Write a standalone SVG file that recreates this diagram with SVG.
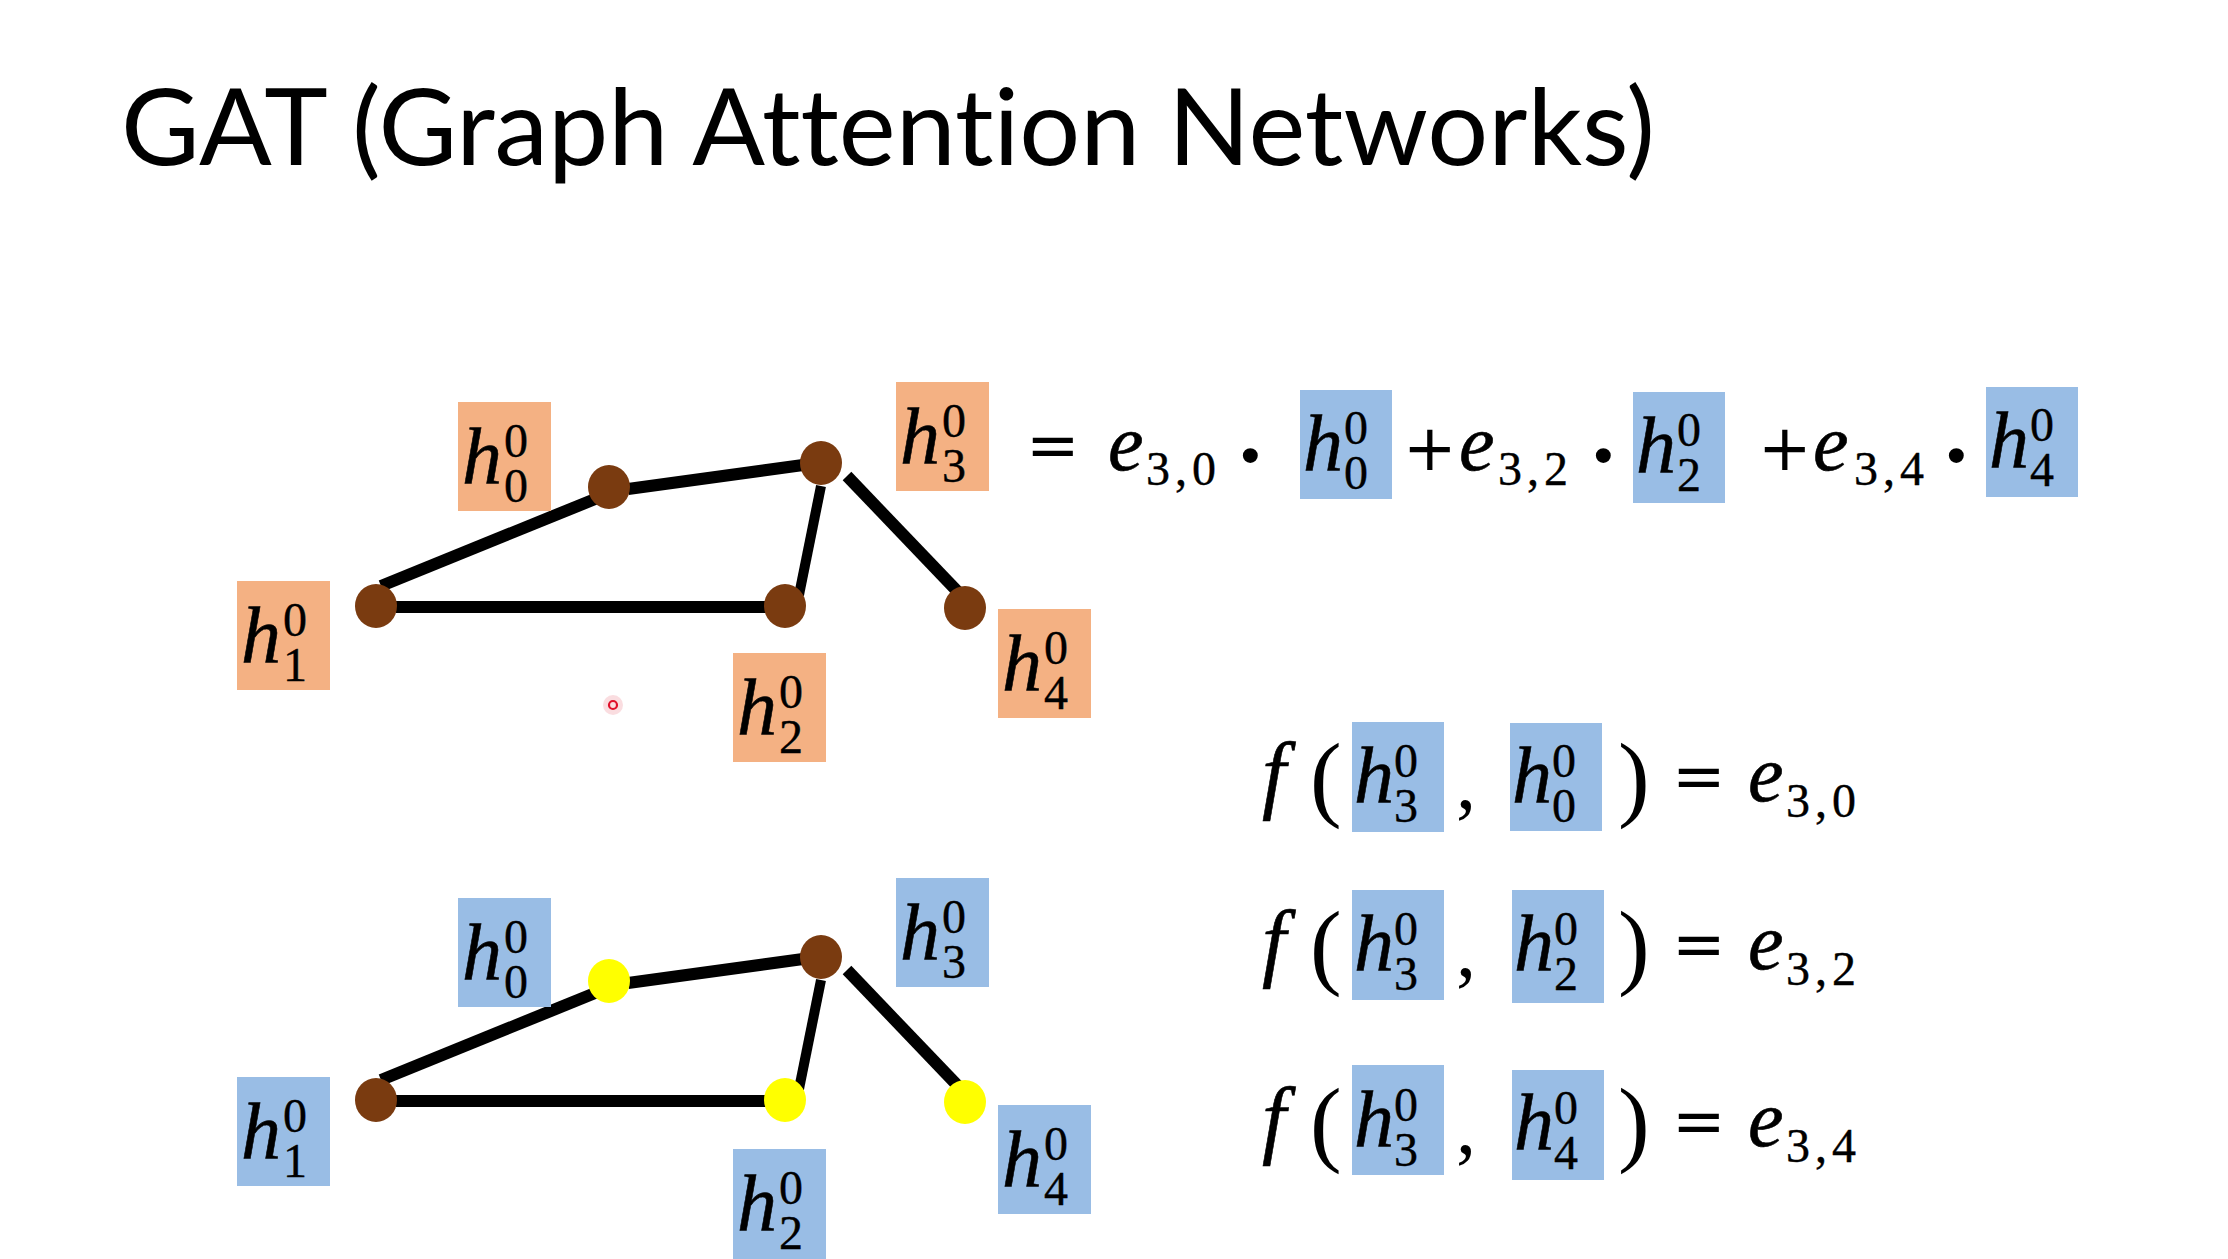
<svg xmlns="http://www.w3.org/2000/svg" width="2228" height="1259" viewBox="0 0 2228 1259">
<style>
.title{font-family:Lato,"Liberation Sans",sans-serif;font-size:107px;fill:#000;font-variant-ligatures:none}
.mi{font-family:"Liberation Serif",serif;font-style:italic;font-size:80px;fill:#000;stroke:#000;stroke-width:0.6}
.fn{font-family:"Liberation Serif",serif;font-style:italic;font-size:86px;fill:#000;stroke:#000;stroke-width:0.6}
.rm{font-family:"Liberation Serif",serif;font-size:80px;fill:#000}
.par{font-family:"Liberation Serif",serif;font-size:95px;fill:#000}
.dg{font-family:"Liberation Serif",serif;font-style:normal;font-size:48px;fill:#000;stroke:#000;stroke-width:0.4}
.sb{letter-spacing:5px}
.op{font-family:"DejaVu Sans",sans-serif;font-size:64px;fill:#000}
.dot{font-family:"Liberation Serif",serif;font-size:92px;fill:#000;font-weight:bold}
.ob{fill:#F4B183}
.bb{fill:#99BDE5}
.edge{stroke:#000;stroke-width:12;fill:none}
.thin{stroke-width:10}
.brown{fill:#7A3B10}
.yellow{fill:#FFFF00}
</style>
<rect x="0" y="0" width="2228" height="1259" fill="#FFFFFF"/>
<text class="title" x="121" y="165" textLength="1534" lengthAdjust="spacingAndGlyphs">GAT (Graph Attention Networks)</text>

<!-- connectors -->
<g id="connectors">
  <g id="edges-top">
    <line class="edge" x1="381" y1="586" x2="600" y2="497"/>
    <line class="edge" x1="628" y1="489" x2="803" y2="465"/>
    <line class="edge" x1="396" y1="607" x2="768" y2="607"/>
    <line class="edge thin" x1="821" y1="486" x2="799" y2="595"/>
    <line class="edge" x1="847" y1="476" x2="958" y2="592"/>
  </g>
  <g id="edges-bottom" transform="translate(0,494)">
    <line class="edge" x1="381" y1="586" x2="600" y2="497"/>
    <line class="edge" x1="628" y1="489" x2="803" y2="465"/>
    <line class="edge" x1="396" y1="607" x2="768" y2="607"/>
    <line class="edge thin" x1="821" y1="486" x2="799" y2="595"/>
    <line class="edge" x1="847" y1="476" x2="958" y2="592"/>
  </g>
</g>

<!-- top graph nodes -->
<g id="node-top-0"><ellipse class="brown" cx="609" cy="487" rx="21" ry="22"/></g>
<g id="node-top-3"><ellipse class="brown" cx="821" cy="463" rx="21" ry="22"/></g>
<g id="node-top-1"><ellipse class="brown" cx="376" cy="606" rx="21" ry="22"/></g>
<g id="node-top-2"><ellipse class="brown" cx="785" cy="606" rx="21" ry="22"/></g>
<g id="node-top-4"><ellipse class="brown" cx="965" cy="608" rx="21" ry="22"/></g>

<!-- bottom graph nodes -->
<g id="node-bot-0"><ellipse class="yellow" cx="609" cy="981" rx="21" ry="22"/></g>
<g id="node-bot-3"><ellipse class="brown" cx="821" cy="957" rx="21" ry="22"/></g>
<g id="node-bot-1"><ellipse class="brown" cx="376" cy="1100" rx="21" ry="22"/></g>
<g id="node-bot-2"><ellipse class="yellow" cx="785" cy="1100" rx="21" ry="22"/></g>
<g id="node-bot-4"><ellipse class="yellow" cx="965" cy="1102" rx="21" ry="22"/></g>

<!-- top graph labels (orange) -->
<g id="label-top-h0" transform="translate(458,402)"><rect class="ob" width="93" height="109"/><text class="mi" x="4" y="81">h<tspan class="dg" x="46" y="55">0</tspan><tspan class="dg" x="46" y="100">0</tspan></text></g>
<g id="label-top-h3" transform="translate(896,382)"><rect class="ob" width="93" height="109"/><text class="mi" x="4" y="81">h<tspan class="dg" x="46" y="55">0</tspan><tspan class="dg" x="46" y="100">3</tspan></text></g>
<g id="label-top-h1" transform="translate(237,581)"><rect class="ob" width="93" height="109"/><text class="mi" x="4" y="81">h<tspan class="dg" x="46" y="55">0</tspan><tspan class="dg" x="46" y="100">1</tspan></text></g>
<g id="label-top-h2" transform="translate(733,653)"><rect class="ob" width="93" height="109"/><text class="mi" x="4" y="81">h<tspan class="dg" x="46" y="55">0</tspan><tspan class="dg" x="46" y="100">2</tspan></text></g>
<g id="label-top-h4" transform="translate(998,609)"><rect class="ob" width="93" height="109"/><text class="mi" x="4" y="81">h<tspan class="dg" x="46" y="55">0</tspan><tspan class="dg" x="46" y="100">4</tspan></text></g>

<!-- bottom graph labels (blue) -->
<g id="label-bot-h0" transform="translate(458,898)"><rect class="bb" width="93" height="109"/><text class="mi" x="4" y="81">h<tspan class="dg" x="46" y="55">0</tspan><tspan class="dg" x="46" y="100">0</tspan></text></g>
<g id="label-bot-h3" transform="translate(896,878)"><rect class="bb" width="93" height="109"/><text class="mi" x="4" y="81">h<tspan class="dg" x="46" y="55">0</tspan><tspan class="dg" x="46" y="100">3</tspan></text></g>
<g id="label-bot-h1" transform="translate(237,1077)"><rect class="bb" width="93" height="109"/><text class="mi" x="4" y="81">h<tspan class="dg" x="46" y="55">0</tspan><tspan class="dg" x="46" y="100">1</tspan></text></g>
<g id="label-bot-h2" transform="translate(733,1149)"><rect class="bb" width="93" height="110"/><text class="mi" x="4" y="81">h<tspan class="dg" x="46" y="55">0</tspan><tspan class="dg" x="46" y="100">2</tspan></text></g>
<g id="label-bot-h4" transform="translate(998,1105)"><rect class="bb" width="93" height="109"/><text class="mi" x="4" y="81">h<tspan class="dg" x="46" y="55">0</tspan><tspan class="dg" x="46" y="100">4</tspan></text></g>

<!-- laser pointer mark -->
<g id="pointer">
  <circle cx="613" cy="705" r="10" fill="#F7C6CC" opacity="0.6"/>
  <circle cx="613" cy="705" r="4" fill="none" stroke="#E0102A" stroke-width="2.2"/>
</g>

<!-- top equation -->
<g id="eq-top">
  <text class="op" x="1026" y="467">=</text>
  <text class="mi" x="1108" y="470">e<tspan class="dg sb" x="1146" y="485">3,0</tspan></text>
  <text class="dot" x="1235" y="486">·</text>
  <g transform="translate(1300,390)"><rect class="bb" width="92" height="109"/><text class="mi" x="3" y="80">h<tspan class="dg" x="44" y="54">0</tspan><tspan class="dg" x="44" y="99">0</tspan></text></g>
  <text class="op" x="1403" y="470">+</text>
  <text class="mi" x="1459" y="470">e<tspan class="dg sb" x="1498" y="485">3,2</tspan></text>
  <text class="dot" x="1588" y="486">·</text>
  <g transform="translate(1633,392)"><rect class="bb" width="92" height="111"/><text class="mi" x="3" y="80">h<tspan class="dg" x="44" y="54">0</tspan><tspan class="dg" x="44" y="99">2</tspan></text></g>
  <text class="op" x="1758" y="470">+</text>
  <text class="mi" x="1813" y="470">e<tspan class="dg sb" x="1854" y="485">3,4</tspan></text>
  <text class="dot" x="1941" y="486">·</text>
  <g transform="translate(1986,387)"><rect class="bb" width="92" height="110"/><text class="mi" x="3" y="80">h<tspan class="dg" x="44" y="54">0</tspan><tspan class="dg" x="44" y="99">4</tspan></text></g>
</g>

<!-- f equations -->
<g id="eq-f1">
  <text class="fn" x="1262" y="802">f</text>
  <text class="par" x="1310" y="809">(</text>
  <g transform="translate(1352,722)"><rect class="bb" width="92" height="110"/><text class="mi" x="2" y="80">h<tspan class="dg" x="42" y="55">0</tspan><tspan class="dg" x="42" y="100">3</tspan></text></g>
  <text class="rm" x="1456" y="808">,</text>
  <g transform="translate(1510,723)"><rect class="bb" width="92" height="108"/><text class="mi" x="2" y="79">h<tspan class="dg" x="42" y="54">0</tspan><tspan class="dg" x="42" y="99">0</tspan></text></g>
  <text class="par" x="1618" y="809">)</text>
  <text class="op" x="1672" y="798">=</text>
  <text class="mi" x="1748" y="801">e<tspan class="dg sb" x="1786" y="817">3,0</tspan></text>
</g>
<g id="eq-f2">
  <text class="fn" x="1262" y="970">f</text>
  <text class="par" x="1310" y="977">(</text>
  <g transform="translate(1352,890)"><rect class="bb" width="92" height="110"/><text class="mi" x="2" y="80">h<tspan class="dg" x="42" y="55">0</tspan><tspan class="dg" x="42" y="100">3</tspan></text></g>
  <text class="rm" x="1456" y="976">,</text>
  <g transform="translate(1512,890)"><rect class="bb" width="92" height="113"/><text class="mi" x="2" y="80">h<tspan class="dg" x="42" y="55">0</tspan><tspan class="dg" x="42" y="100">2</tspan></text></g>
  <text class="par" x="1618" y="977">)</text>
  <text class="op" x="1672" y="966">=</text>
  <text class="mi" x="1748" y="969">e<tspan class="dg sb" x="1786" y="985">3,2</tspan></text>
</g>
<g id="eq-f3">
  <text class="fn" x="1262" y="1147">f</text>
  <text class="par" x="1310" y="1154">(</text>
  <g transform="translate(1352,1065)"><rect class="bb" width="92" height="110"/><text class="mi" x="2" y="81">h<tspan class="dg" x="42" y="56">0</tspan><tspan class="dg" x="42" y="101">3</tspan></text></g>
  <text class="rm" x="1456" y="1153">,</text>
  <g transform="translate(1512,1070)"><rect class="bb" width="92" height="110"/><text class="mi" x="2" y="79">h<tspan class="dg" x="42" y="54">0</tspan><tspan class="dg" x="42" y="99">4</tspan></text></g>
  <text class="par" x="1618" y="1154">)</text>
  <text class="op" x="1672" y="1143">=</text>
  <text class="mi" x="1748" y="1146">e<tspan class="dg sb" x="1786" y="1162">3,4</tspan></text>
</g>
</svg>
